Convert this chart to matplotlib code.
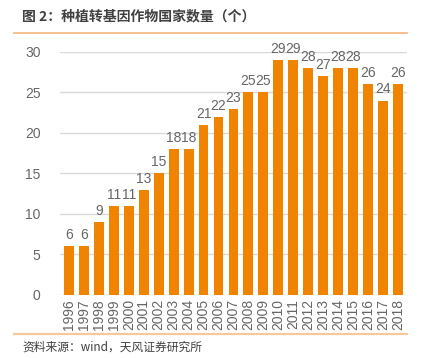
import matplotlib.pyplot as plt
from matplotlib.lines import Line2D

plt.rcParams['font.family'] = ['Noto Sans CJK SC', 'DejaVu Sans']

years = [str(y) for y in range(1996, 2019)]
counts = [6, 6, 9, 11, 11, 13, 15, 18, 18, 21, 22, 23, 25, 25, 29, 29, 28, 27, 28, 28, 26, 24, 26]

BAR = '#F08300'
GREY = '#666666'
NUMFONT = 'Liberation Sans'

fig = plt.figure(figsize=(4.27, 3.58), dpi=100)
ax = fig.add_axes([0.1405, 0.176, 0.8125, 0.679])

x = list(range(len(years)))
ax.bar(x, counts, width=0.66, color=BAR, zorder=2)
for xi, v in zip(x, counts):
    ax.text(xi, v + 0.5, str(v), ha='center', va='bottom', fontsize=10,
            color=GREY, family=NUMFONT)

ax.set_ylim(0, 30)
ax.set_xlim(-0.6, len(years) - 0.4)
ax.set_yticks(range(0, 31, 5))
ax.set_xticks(x)
ax.set_xticklabels(years, rotation=90, fontsize=10, color=GREY, family=NUMFONT)
ax.tick_params(axis='y', labelsize=10, labelcolor=GREY, length=0, pad=14)
ax.tick_params(axis='x', length=0, pad=3)
for lab in ax.get_yticklabels():
    lab.set_family(NUMFONT)
ax.grid(axis='y', color='#D9D9D9', linewidth=1, zorder=0)
for s in ax.spines.values():
    s.set_visible(False)

# title and source
fig.text(22 / 427, 1 - 16 / 358, '图 2：种植转基因作物国家数量（个）', fontsize=10,
         fontweight='bold', color='#404040', va='center', ha='left')
fig.add_artist(Line2D([14 / 427, 407 / 427], [1 - 33 / 358] * 2, color='#F6B47A', lw=1.2))
fig.add_artist(Line2D([14 / 427, 407 / 427], [1 - 334 / 358] * 2, color='#F9C89A', lw=1.6))
fig.text(22 / 427, 1 - 347 / 358, '资料来源：wind，天风证券研究所', fontsize=8.5,
         color='#404040', va='center', ha='left')

fig.savefig('out.png', dpi=100)
